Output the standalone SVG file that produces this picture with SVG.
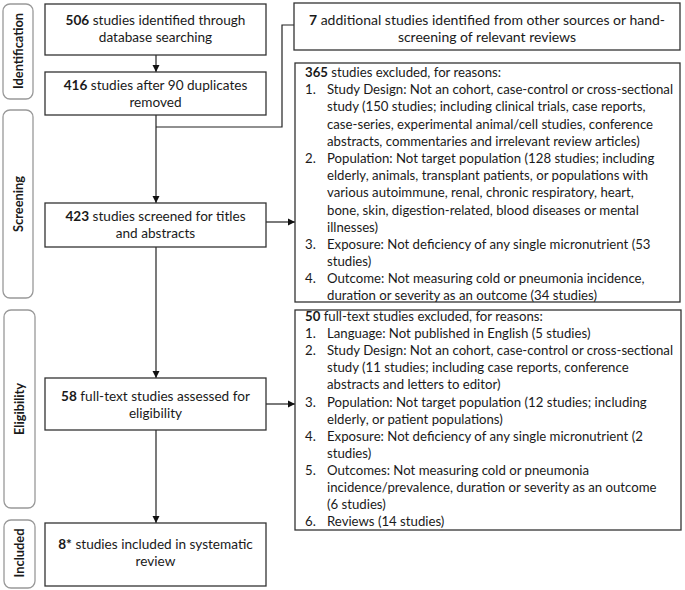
<svg xmlns="http://www.w3.org/2000/svg" width="685" height="590" viewBox="0 0 685 590">
<style>
text{font-family:Lato,"Liberation Sans",sans-serif;fill:#1a1a1a}
.m{font-size:13.6px;text-anchor:middle}
.r{font-size:13.2px}
.s{font-size:12.8px;font-weight:bold;text-anchor:middle}
.b{font-weight:bold}
.box{fill:#fff;stroke:#333;stroke-width:1.3}
.side{fill:#fff;stroke:#999;stroke-width:1.3}
.c{fill:none;stroke:#222;stroke-width:1.2}
</style>
<defs>
<marker id="ah" markerWidth="8" markerHeight="8" refX="7" refY="4" orient="auto" markerUnits="userSpaceOnUse">
<path d="M0,0.5 L7,4 L0,7.5 z" fill="#111"/>
</marker>
</defs>
<rect width="685" height="590" fill="#fff"/>
<g id="phase-identification"><rect class="side" x="3" y="4" width="30" height="95" rx="7"/><text class="s" transform="translate(22.5,51) rotate(-90)">Identification</text></g>
<g id="phase-screening"><rect class="side" x="3" y="110" width="30" height="188" rx="7"/><text class="s" transform="translate(22.5,204) rotate(-90)">Screening</text></g>
<g id="phase-eligibility"><rect class="side" x="4" y="310" width="31" height="198" rx="7"/><text class="s" transform="translate(23.5,409) rotate(-90)">Eligibility</text></g>
<g id="phase-included"><rect class="side" x="4" y="520" width="31" height="68" rx="7"/><text class="s" transform="translate(23.5,553) rotate(-90)">Included</text></g>

<g id="connectors">
<line class="c" x1="156" y1="55" x2="156" y2="72" marker-end="url(#ah)"/>
<line class="c" x1="156" y1="115" x2="156" y2="203" marker-end="url(#ah)"/>
<polyline class="c" points="294,25 282,25 282,127 156,127"/>
<line class="c" x1="266" y1="222" x2="295" y2="222" marker-end="url(#ah)"/>
<line class="c" x1="156" y1="247" x2="156" y2="378" marker-end="url(#ah)"/>
<line class="c" x1="266" y1="404" x2="295" y2="404" marker-end="url(#ah)"/>
<line class="c" x1="156" y1="430" x2="156" y2="523" marker-end="url(#ah)"/>
</g>

<g id="n-identified"><rect class="box" x="45" y="4" width="221" height="51"/>
<text class="m" x="155.5" y="24.5"><tspan class="b">506</tspan> studies identified through</text>
<text class="m" x="155.5" y="42">database searching</text></g>

<g id="n-duplicates"><rect class="box" x="45" y="72" width="221" height="43"/>
<text class="m" x="155.5" y="90"><tspan class="b">416</tspan> studies after 90 duplicates</text>
<text class="m" x="155.5" y="107">removed</text></g>

<g id="n-additional"><rect class="box" x="294" y="3" width="386" height="47"/>
<text class="m" x="487" y="24.5" style="font-size:14px"><tspan class="b">7</tspan> additional studies identified from other  sources or hand-</text>
<text class="m" x="487" y="42" style="font-size:14px">screening of relevant reviews</text></g>

<g id="n-screened"><rect class="box" x="45" y="203" width="221" height="44"/>
<text class="m" x="155.5" y="220.5"><tspan class="b">423</tspan> studies screened for titles</text>
<text class="m" x="155.5" y="237.5">and abstracts</text></g>

<g id="n-excluded365"><rect class="box" x="295" y="63" width="385" height="239"/>
<text class="r" x="305" y="77"><tspan class="b">365</tspan>  studies excluded, for reasons:</text>
<text class="r" x="305" y="94.2">1.</text><text class="r" x="327" y="94.2">Study Design: Not an cohort, case-control  or cross-sectional</text>
<text class="r" x="327" y="111.4">study (150 studies; including clinical trials, case reports,</text>
<text class="r" x="327" y="128.6">case-series, experimental animal/cell studies, conference</text>
<text class="r" x="327" y="145.8">abstracts,  commentaries and irrelevant review articles)</text>
<text class="r" x="305" y="163">2.</text><text class="r" x="327" y="163">Population: Not target population (128 studies; including</text>
<text class="r" x="327" y="180.2">elderly, animals, transplant patients, or populations with</text>
<text class="r" x="327" y="197.4">various autoimmune, renal, chronic respiratory, heart,</text>
<text class="r" x="327" y="214.6">bone, skin, digestion-related, blood diseases or mental</text>
<text class="r" x="327" y="231.8">illnesses)</text>
<text class="r" x="305" y="249">3.</text><text class="r" x="327" y="249">Exposure: Not deficiency of any single micronutrient (53</text>
<text class="r" x="327" y="266.2">studies)</text>
<text class="r" x="305" y="283.4">4.</text><text class="r" x="327" y="283.4">Outcome: Not measuring cold or pneumonia incidence,</text>
<text class="r" x="327" y="300.2">duration or severity as an outcome  (34 studies)</text></g>

<g id="n-fulltext"><rect class="box" x="45" y="378" width="221" height="52"/>
<text class="m" x="155.5" y="400.5"><tspan class="b">58</tspan> full-text studies assessed for</text>
<text class="m" x="155.5" y="417.5">eligibility</text></g>

<g id="n-excluded50"><rect class="box" x="295" y="310" width="386" height="220"/>
<text class="r" x="305" y="321"><tspan class="b">50</tspan> full-text studies excluded, for reasons:</text>
<text class="r" x="305" y="338.1">1.</text><text class="r" x="327" y="338.1">Language:  Not published in English (5 studies)</text>
<text class="r" x="305" y="355.2">2.</text><text class="r" x="327" y="355.2">Study Design: Not an cohort, case-control  or cross-sectional</text>
<text class="r" x="327" y="372.3">study (11 studies; including case reports, conference</text>
<text class="r" x="327" y="389.4">abstracts  and letters to editor)</text>
<text class="r" x="305" y="406.5">3.</text><text class="r" x="327" y="406.5">Population: Not target population (12 studies; including</text>
<text class="r" x="327" y="423.6">elderly, or patient populations)</text>
<text class="r" x="305" y="440.7">4.</text><text class="r" x="327" y="440.7">Exposure: Not deficiency of any single micronutrient (2</text>
<text class="r" x="327" y="457.8">studies)</text>
<text class="r" x="305" y="474.9">5.</text><text class="r" x="327" y="474.9">Outcomes: Not measuring cold or pneumonia</text>
<text class="r" x="327" y="492">incidence/prevalence, duration or severity as an outcome</text>
<text class="r" x="327" y="509.1">(6 studies)</text>
<text class="r" x="305" y="526.2">6.</text><text class="r" x="327" y="526.2">Reviews (14 studies)</text></g>

<g id="n-included"><rect class="box" x="45" y="523" width="221" height="63"/>
<text class="m" x="155.5" y="548.5"><tspan class="b">8*</tspan> studies included in systematic</text>
<text class="m" x="155.5" y="566">review</text></g>
</svg>
